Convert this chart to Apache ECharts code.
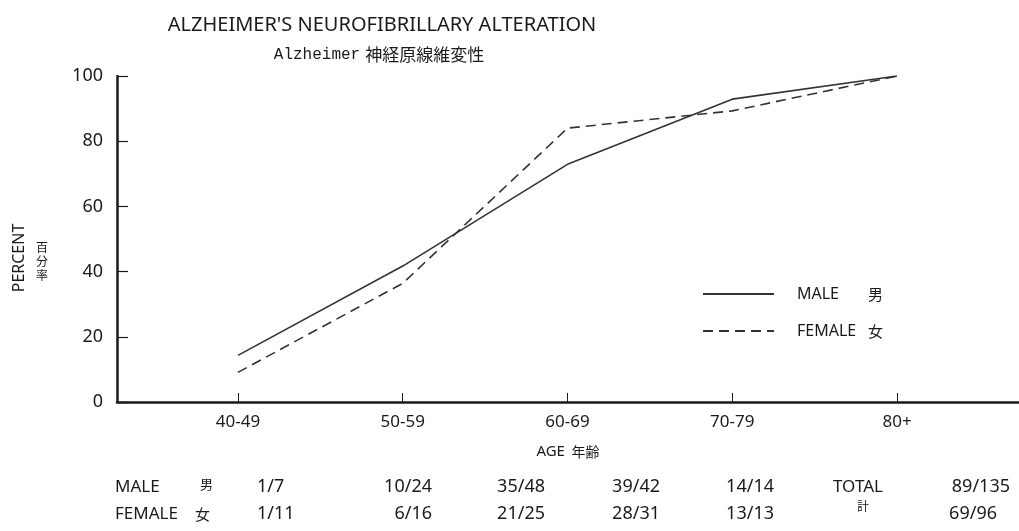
<!DOCTYPE html>
<html>
<head>
<meta charset="utf-8">
<script src="https://cdn.jsdelivr.net/npm/echarts@6/dist/echarts.min.js"></script>
<style>
  html, body { margin: 0; padding: 0; background: #fff; }
  #chart { width: 1019px; height: 531px; }
</style>
</head>
<body>
<div id="chart"></div>
<script>
// Age groups on the horizontal axis
const ageGroups = ['40-49', '50-59', '60-69', '70-79', '80+'];
// Percent with neurofibrillary alteration, per age group
const malePct = [14.3, 41.7, 72.9, 92.9, 100];
const femalePct = [9.1, 36.4, 84.0, 89.3, 100];
// Case counts (affected / examined) printed under the axis
const maleCounts = ['1/7', '10/24', '35/48', '39/42', '14/14'];
const femaleCounts = ['1/11', '6/16', '21/25', '28/31', '13/13'];
const maleTotal = '89/135';
const femaleTotal = '69/96';
// Series names with their Japanese labels
const seriesNames = ['MALE', 'FEMALE'];
const seriesKanji = ['男', '女'];

const INK = '#1a1a1a';
const LINE = '#333333';
const SANS = '"Noto Sans", "DejaVu Sans", sans-serif';
const CJK = '"Noto Sans CJK JP", sans-serif';

const idx = ageGroups.map((_, i) => i);
const toPoints = arr => arr.map((v, i) => [i, v]);

// Count table beneath the chart
const rowY = [487, 514];
const colX = [257, 432, 545, 660, 774];
const colAlign = ['left', 'right', 'right', 'right', 'right'];
function txt(text, x, y, align, size, family) {
  return {
    type: 'text', x: x, y: y, silent: true,
    style: {
      text: text, fill: INK, align: align, verticalAlign: 'middle',
      fontSize: size, fontFamily: family || SANS
    }
  };
}
const tableTexts = [];
[maleCounts, femaleCounts].forEach((row, r) => {
  row.forEach((t, c) => tableTexts.push(txt(t, colX[c], rowY[r], colAlign[c], 18)));
});
tableTexts.push(txt('MALE', 115, rowY[0], 'left', 17));
tableTexts.push(txt(seriesKanji[0], 200, rowY[0] - 3, 'left', 13, CJK));
tableTexts.push(txt('FEMALE', 115, rowY[1], 'left', 17));
tableTexts.push(txt(seriesKanji[1], 195, rowY[1], 'left', 15, CJK));
tableTexts.push(txt('TOTAL', 833, rowY[0], 'left', 17));
tableTexts.push(txt('計', 857, rowY[1] - 8, 'left', 12, CJK));
tableTexts.push(txt(maleTotal, 1010, rowY[0], 'right', 18));
tableTexts.push(txt(femaleTotal, 997, rowY[1], 'right', 18));

// Vertical axis title: English rotated, Japanese stacked
tableTexts.push({
  type: 'text', x: 19, y: 258, rotation: Math.PI / 2, silent: true,
  style: { text: 'PERCENT', fill: INK, align: 'center', verticalAlign: 'middle', fontSize: 16, fontFamily: SANS }
});
tableTexts.push({
  type: 'text', x: 42, y: 261, silent: true,
  style: { text: '百\n分\n率', fill: INK, align: 'center', verticalAlign: 'middle', fontSize: 12, lineHeight: 14, fontFamily: CJK }
});

const chart = echarts.init(document.getElementById('chart'));
chart.setOption({
  backgroundColor: '#ffffff',
  animation: false,
  title: [
    {
      text: 'ALZHEIMER\'S NEUROFIBRILLARY ALTERATION',
      left: 377, top: 10, textAlign: 'center',
      textStyle: { color: INK, fontSize: 20, fontWeight: 'normal', fontFamily: SANS }
    },
    {
      text: '{a|Alzheimer} {b|神経原線維変性}',
      left: 374, top: 41, textAlign: 'center',
      textStyle: {
        fontWeight: 'normal',
        rich: {
          a: { color: INK, fontSize: 16, fontWeight: 'normal', fontFamily: '"Liberation Mono", monospace' },
          b: { color: INK, fontSize: 17, fontWeight: 'normal', fontFamily: CJK }
        }
      }
    }
  ],
  legend: {
    orient: 'vertical',
    left: 697, top: 281,
    itemWidth: 71, itemHeight: 14, itemGap: 21,
    data: seriesNames,
    itemStyle: { opacity: 0 },
    formatter: name => '{n|' + name + '}{k|' + seriesKanji[seriesNames.indexOf(name)] + '}',
    textStyle: {
      padding: [0, 0, 0, 18],
      rich: {
        n: { width: 71, fontSize: 16, color: INK, fontFamily: SANS },
        k: { fontSize: 15, color: INK, fontFamily: CJK }
      }
    }
  },
  grid: { left: 117, right: 0, top: 76, height: 326, containLabel: false },
  xAxis: {
    type: 'value',
    min: -0.734, max: 4.74,
    name: '{a|AGE}  {b|年齢}',
    nameLocation: 'middle',
    nameGap: 42,
    nameTextStyle: {
      rich: {
        a: { fontSize: 15, color: INK, fontFamily: SANS },
        b: { fontSize: 14, color: INK, fontFamily: CJK }
      }
    },
    splitLine: { show: false },
    axisLine: { show: true, lineStyle: { color: INK, width: 2.5 } },
    axisTick: { show: true, inside: true, length: 9, customValues: idx, lineStyle: { color: INK, width: 1 } },
    axisLabel: {
      customValues: idx,
      formatter: v => ageGroups[Math.round(v)],
      color: INK, fontSize: 17, fontFamily: SANS, margin: 12
    }
  },
  yAxis: {
    type: 'value',
    position: 'left',
    min: 0, max: 100, interval: 20,
    splitLine: { show: false },
    axisLine: { show: true, onZero: false, lineStyle: { color: INK, width: 2.5 } },
    axisTick: { show: true, inside: true, length: 11, lineStyle: { color: INK, width: 1.2 } },
    axisLabel: { color: INK, fontSize: 18, fontFamily: SANS, margin: 14 }
  },
  series: [
    {
      name: seriesNames[0], type: 'line', data: toPoints(malePct),
      symbol: 'none', silent: true,
      lineStyle: { color: LINE, width: 1.6, type: 'solid' },
      itemStyle: { color: LINE }
    },
    {
      name: seriesNames[1], type: 'line', data: toPoints(femalePct),
      symbol: 'none', silent: true,
      lineStyle: { color: LINE, width: 1.6, type: [10, 6] },
      itemStyle: { color: LINE }
    }
  ],
  graphic: tableTexts
});
</script>
</body>
</html>
